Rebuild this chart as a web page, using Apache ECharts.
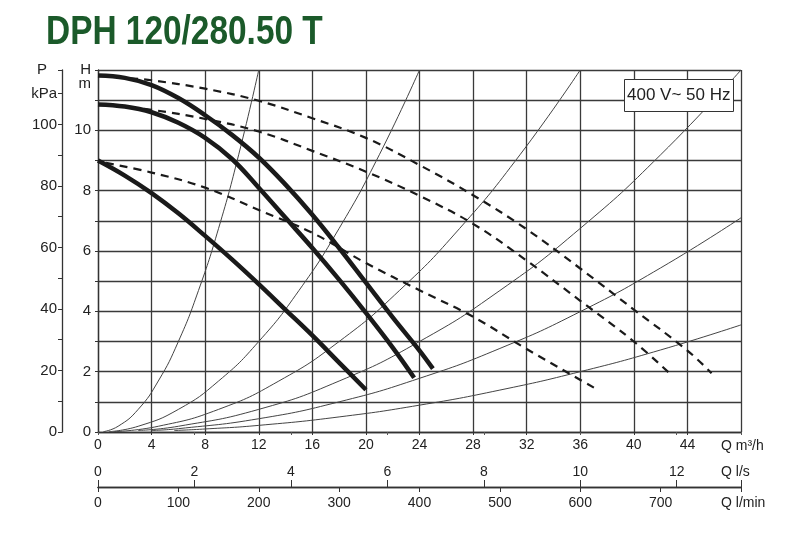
<!DOCTYPE html>
<html>
<head>
<meta charset="utf-8">
<script src="https://cdn.jsdelivr.net/npm/echarts@6/dist/echarts.min.js"></script>
<style>
  html, body { margin: 0; padding: 0; background: #fff; }
  #main { width: 800px; height: 533px; }
</style>
</head>
<body>
<div id="main"></div>
<script>
// pump curves, Q in m3/h, H in m
var solidTop = [[0,11.82],[2,11.74],[4,11.5],[6,11.07],[8,10.5],[10,9.85],[12,9.1],[14,8.2],[16,7.2],[18,6.1],[20,4.95],[22,3.8],[24,2.7],[25,2.1]];
var solidMid = [[0,10.86],[2,10.79],[4,10.6],[6,10.25],[8,9.75],[10,9.05],[12,8.1],[14,7.1],[16,6.1],[18,5.05],[20,3.95],[22,2.8],[23.6,1.8]];
var solidLow = [[0,9.0],[2,8.5],[4,7.92],[6,7.25],[8,6.5],[10,5.72],[12,4.9],[14,4.05],[16,3.2],[18,2.3],[20,1.4]];

var dashTop = [[2.4,11.72],[4,11.66],[8,11.38],[12,10.98],[16,10.4],[20,9.75],[24,8.85],[28,7.85],[32,6.72],[36,5.42],[40,4.06],[44,2.7],[45.8,1.95]];
var dashMid = [[2.4,10.74],[4,10.68],[8,10.38],[12,9.96],[16,9.32],[20,8.63],[24,7.83],[28,6.9],[32,5.68],[36,4.35],[40,3.0],[42.9,1.85]];
var dashLow = [[0.6,8.92],[4,8.6],[8,8.1],[12,7.36],[16,6.6],[20,5.6],[24,4.7],[28,3.82],[32,2.75],[37.3,1.4]];

// system curves (thin lines)
var sys1 = [[0.4,0.01],[1.5,0.19],[3,0.75],[4.5,1.69],[6,3.0],[7.5,4.69],[9,6.75],[10.5,9.19],[12,12]];
var sys2 = [[0.8,0.01],[3,0.19],[6,0.75],[9,1.69],[12,3.0],[15,4.69],[18,6.75],[21,9.19],[24,12]];
var sys3 = [[1.2,0.01],[4.5,0.19],[9,0.75],[13.5,1.69],[18,3.0],[22.5,4.69],[27,6.75],[31.5,9.19],[36,12]];
var sys4 = [[3,0.05],[6,0.19],[12,0.75],[18,1.69],[24,3.0],[30,4.69],[36,6.75],[42,9.19],[48,12]];
var sys5 = [[4,0.05],[6,0.11],[12,0.44],[18,1.0],[24,1.78],[30,2.77],[36,3.99],[42,5.44],[48,7.1]];
var sys6 = [[5.7,0.05],[8,0.1],[12,0.22],[18,0.5],[24,0.89],[30,1.39],[36,2.0],[42,2.72],[48,3.55]];

var qMax = 48;          // m3/h
var hMax = 12;          // m
var pMax = hMax * 9.80665;   // kPa
var lsMax = qMax / 3.6;      // l/s
var lminMax = 800;           // l/min

var font = 'Liberation Sans';
var ink = '#222';
var gridCol = '#3a3a3a';

var myChart = echarts.init(document.getElementById('main'));

function thin(d) {
    return { type: 'line', data: d, smooth: 0.5, symbol: 'none', silent: true,
        lineStyle: { width: 1, color: '#444' }, z: 2 };
}
function dashed(d) {
    return { type: 'line', data: d, smooth: 0.4, symbol: 'none', silent: true,
        lineStyle: { width: 2.2, color: '#1a1a1a', type: [8, 6] }, z: 3 };
}
function thick(d) {
    return { type: 'line', data: d, smooth: 0.4, symbol: 'none', silent: true,
        lineStyle: { width: 4.5, color: '#1a1a1a', cap: 'butt' }, z: 4 };
}

myChart.setOption({
    animation: false,
    backgroundColor: '#fff',
    textStyle: { fontFamily: font },
    // condensed bold heading: no narrow font installed, so squeeze the normal one
    graphic: [{
        type: 'text', x: 46, y: 12, scaleX: 0.815, z: 10,
        style: { text: 'DPH 120/280.50 T', fontFamily: font, fontWeight: 'bold', fontSize: 41,
            fill: '#1b5a2a', textAlign: 'left', textVerticalAlign: 'top' }
    }],
    title: [{
        text: '400 V~ 50 Hz',
        left: 624, top: 79,
        padding: [8, 3, 8, 3],
        borderColor: '#333', borderWidth: 1, backgroundColor: '#fff',
        textStyle: { fontFamily: font, fontWeight: 'normal', fontSize: 17, color: ink }
    }],
    grid: { left: 98, right: 59, top: 70, bottom: 101 },
    xAxis: [{
        type: 'value', min: 0, max: qMax, interval: 4, position: 'bottom',
        axisLine: { onZero: false, lineStyle: { color: '#333', width: 1.3 } },
        axisTick: { length: 3, lineStyle: { color: '#333' } },
        splitLine: { show: true, lineStyle: { color: gridCol, width: 1.3 } },
        axisLabel: { margin: 6, fontSize: 14, color: ink,
            formatter: function (v) { return v === qMax ? '' : v; } },
        name: 'Q m³/h', nameLocation: 'end', nameGap: -20,
        nameTextStyle: { align: 'left', verticalAlign: 'top', padding: [7, 0, 0, 0], fontSize: 14, color: ink }
    }, {
        type: 'value', min: 0, max: lsMax, interval: 2, position: 'bottom', offset: 55,
        axisLine: { onZero: false, lineStyle: { color: '#333', width: 1.3 } },
        axisTick: { inside: true, length: 7, lineStyle: { color: '#333' } },
        splitLine: { show: false },
        axisLabel: { inside: true, margin: 8, fontSize: 14, color: ink,
            formatter: function (v) { return v > 13 ? '' : v; } },
        name: 'Q l/s', nameLocation: 'end', nameGap: -20,
        nameTextStyle: { align: 'left', verticalAlign: 'bottom', padding: [0, 0, 8, 0], fontSize: 14, color: ink }
    }, {
        type: 'value', min: 0, max: lminMax, interval: 100, position: 'bottom', offset: 55,
        axisLine: { onZero: false, lineStyle: { color: '#333', width: 1.3 } },
        axisTick: { length: 5, lineStyle: { color: '#333' } },
        splitLine: { show: false },
        axisLabel: { margin: 9, fontSize: 14, color: ink,
            formatter: function (v) { return v === lminMax ? '' : v; } },
        name: 'Q l/min', nameLocation: 'end', nameGap: -20,
        nameTextStyle: { align: 'left', verticalAlign: 'top', padding: [9, 0, 0, 0], fontSize: 14, color: ink }
    }, {
        type: 'value', min: 0, max: lsMax, interval: 2, position: 'top',
        axisLine: { show: false },
        axisTick: { inside: true, length: 3, lineStyle: { color: '#555' } },
        splitLine: { show: false },
        axisLabel: { show: false }
    }],
    yAxis: [{
        type: 'value', min: 0, max: hMax, interval: 1, position: 'left',
        axisLine: { onZero: false, lineStyle: { color: '#333', width: 1.3 } },
        axisTick: { length: 3, lineStyle: { color: '#333' } },
        splitLine: { show: true, lineStyle: { color: gridCol, width: 1.3 } },
        axisLabel: { margin: 7, fontSize: 15, color: ink,
            formatter: function (v) {
                if (v === hMax) return '{u|H\nm}';
                return v % 2 === 0 ? v : '';
            },
            rich: { u: { fontSize: 15, lineHeight: 14, padding: [14, 0, 0, 0], color: ink, fontFamily: font } }
        }
    }, {
        type: 'value', min: 0, max: pMax, interval: 10, position: 'left', offset: 36,
        axisLine: { show: true, onZero: false, lineStyle: { color: '#333', width: 1.3 } },
        axisTick: { show: true, length: 4, lineStyle: { color: '#333' } },
        splitLine: { show: false },
        axisLabel: { margin: 5, fontSize: 15, color: ink,
            formatter: function (v) {
                if (v > 115) return '{p|P}';
                if (v === 110) return 'kPa';
                return v % 20 === 0 ? v : '';
            },
            rich: { p: { fontSize: 15, padding: [0, 10, 0, 0], color: ink, fontFamily: font } }
        }
    }],
    series: [
        thin(sys1), thin(sys2), thin(sys3), thin(sys4), thin(sys5), thin(sys6),
        dashed(dashTop), dashed(dashMid), dashed(dashLow),
        thick(solidTop), thick(solidMid), thick(solidLow)
    ]
});
</script>
</body>
</html>
